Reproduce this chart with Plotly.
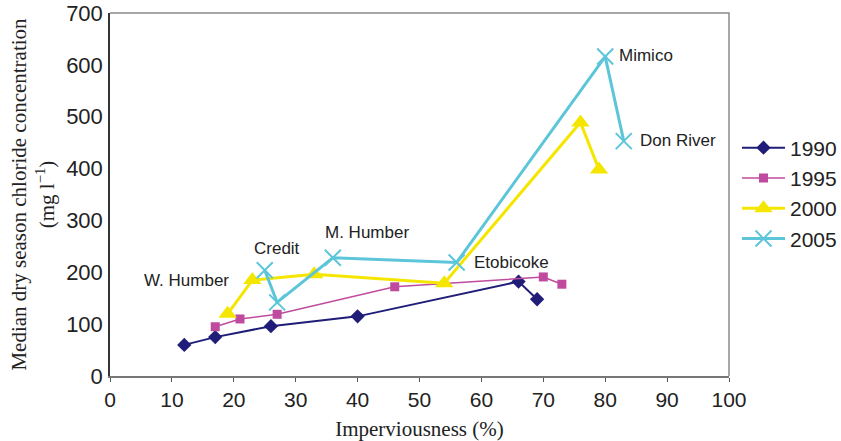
import plotly.graph_objects as go

# Data
x1990 = [12, 17, 26, 40, 66, 69]
y1990 = [60, 75, 96, 115, 182, 148]

x1995 = [17, 21, 27, 46, 70, 73]
y1995 = [95, 110, 119, 172, 191, 177]

x2000 = [19, 23, 33, 54, 76, 79]
y2000 = [120, 185, 196, 179, 489, 398]

x2005 = [25, 27, 36, 56, 80, 83]
y2005 = [204, 142, 228, 219, 616, 453]

site_names = ["Mimico", "Don River", "Etobicoke", "M. Humber", "Credit", "W. Humber"]
site_label_x = [81.9, 85.3, 58.5, 34.4, 23.0, 5.2]
site_label_y = [618, 455, 219, 277, 246, 185]

fig = go.Figure()

fig.add_trace(go.Scatter(
    x=x1990, y=y1990, name="1990", mode="lines+markers",
    line=dict(color="#1F1D78", width=2),
    marker=dict(symbol="diamond", size=11, color="#1F1D78"),
))
fig.add_trace(go.Scatter(
    x=x1995, y=y1995, name="1995", mode="lines+markers",
    line=dict(color="#C04B9E", width=1.5),
    marker=dict(symbol="square", size=9, color="#C04B9E"),
))
fig.add_trace(go.Scatter(
    x=x2000, y=y2000, name="2000", mode="lines+markers",
    line=dict(color="#F5E600", width=3),
    marker=dict(symbol="triangle-up", size=16, color="#F5E600"),
))
fig.add_trace(go.Scatter(
    x=x2005, y=y2005, name="2005", mode="lines+markers",
    line=dict(color="#5CC5DA", width=3),
    marker=dict(symbol="x-thin", size=16, color="#5CC5DA",
                line=dict(color="#5CC5DA", width=2)),
))

for name, lx, ly in zip(site_names, site_label_x, site_label_y):
    fig.add_annotation(x=lx, y=ly, text=name, showarrow=False,
                       xanchor="left", yanchor="middle",
                       font=dict(family="Liberation Sans, Arial", size=17, color="#222"))

# top/right frame in gray
fig.add_shape(type="path", path="M 0,1 L 1,1 L 1,0", xref="paper", yref="paper",
              line=dict(color="#8a8a8a", width=1.5))

fig.update_layout(
    width=841, height=441,
    margin=dict(l=110, r=112, t=13, b=65),
    paper_bgcolor="white", plot_bgcolor="white",
    font=dict(family="Liberation Sans, Arial", size=21, color="#222"),
    showlegend=True,
    legend=dict(x=737 / 841, y=1 - 127.5 / 441, xref="container", yref="container",
                xanchor="left", yanchor="top",
                font=dict(family="Liberation Sans, Arial", size=21, color="#222"),
                itemwidth=43, bgcolor="rgba(0,0,0,0)"),
)
fig.update_xaxes(
    range=[0, 100], dtick=10, tick0=0, automargin=False,
    showgrid=False, zeroline=False,
    showline=True, linecolor="#777", linewidth=1.5,
    ticks="outside", ticklen=4, tickcolor="#555",
    tickfont=dict(size=21),
    title=dict(text="Imperviousness (%)",
               font=dict(family="Liberation Serif, Times New Roman", size=21, color="#222"),
               standoff=12),
)
fig.update_yaxes(
    range=[0, 700], dtick=100, tick0=0, automargin=False,
    showgrid=False, zeroline=False,
    showline=True, linecolor="#333", linewidth=1.5,
    ticks="", ticklabelstandoff=1,
    tickfont=dict(size=22),
    title=dict(text="Median dry season chloride concentration<br>(mg l<sup>−1</sup>)",
               font=dict(family="Liberation Serif, Times New Roman", size=21, color="#222"),
               standoff=6),
)

# remove the default 8px page margin so the figure fills the window exactly
fig.write_html("out.html", config={"displayModeBar": False},
               post_script="document.body.style.margin='0';")
